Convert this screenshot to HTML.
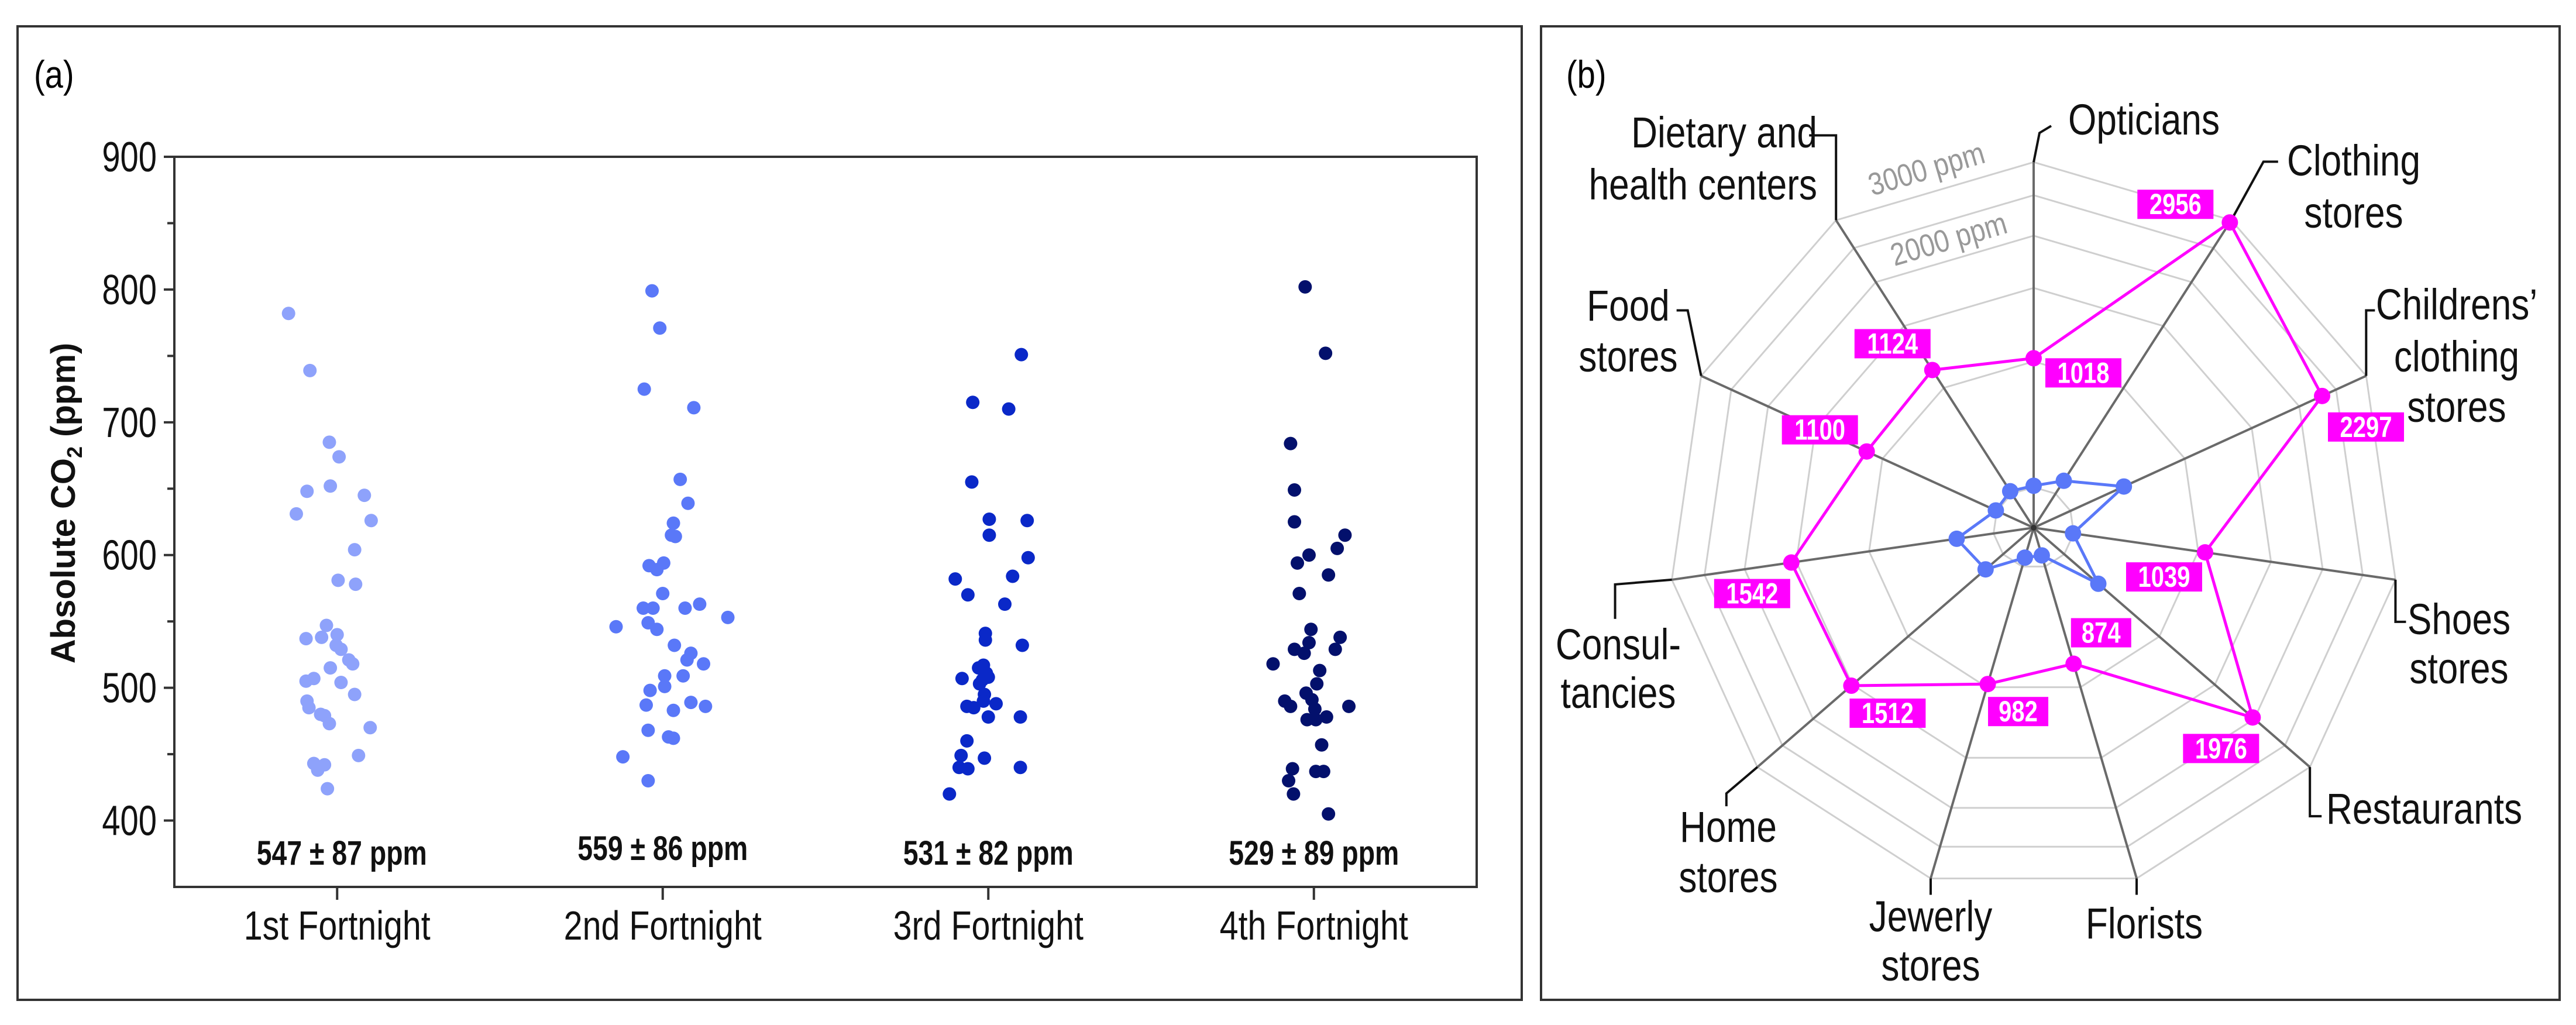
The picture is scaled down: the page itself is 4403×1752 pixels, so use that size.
<!DOCTYPE html>
<html><head><meta charset="utf-8"><style>
html,body{margin:0;padding:0;background:#fff;}
svg{display:block;}
text{font-family:"Liberation Sans Narrow","Liberation Sans",sans-serif;}
</style></head><body>
<svg id="fig" width="4403" height="1752" viewBox="0 0 4403 1752" xmlns="http://www.w3.org/2000/svg">
<rect x="30" y="45" width="2571" height="1664" fill="none" stroke="#333" stroke-width="4"/>
<rect x="2634" y="45" width="1741" height="1664" fill="none" stroke="#333" stroke-width="4"/>
<text x="0" y="0" transform="translate(58,150) scale(0.85,1)" font-size="66">(a)</text>
<text x="0" y="0" transform="translate(2677,150) scale(0.85,1)" font-size="66">(b)</text>
<g id="chartA"></g>
<g id="chartB"></g>
</svg>
<script>
// ---------- Panel (a) data ----------
const categories = ["1st Fortnight","2nd Fortnight","3rd Fortnight","4th Fortnight"];
const statLabels = ["547 ± 87 ppm","559 ± 86 ppm","531 ± 82 ppm","529 ± 89 ppm"];
const yTicks = [400,500,600,700,800,900];
const seriesColors = ["#8ea2fb","#5a78f8","#0a28c8","#03106c"];
const values1 = [782,739,685,674,652,648,645,631,626,604,581,578,547,540,537,538,532,529,521,518,515,505,507,504,495,490,485,480,479,473,470,449,442,443,438,424];
const jitter1 = [-50,-28,-8,2,-7,-31,28,-42,35,18,1,19,-11,0,-32,-16,-1,4,12,16,-7,-32,-24,4,18,-31,-29,-17,-13,-8,34,22,-13,-24,-20,-10,-9,3];
const values2 = [799,771,725,711,657,639,624,615,614,592,589,594,571,560,560,560,563,553,546,549,544,532,526,521,518,509,509,501,498,489,486,487,483,468,463,462,448,430];
const jitter2 = [-11,-3,-19,32,18,26,11,9,13,-14,-6,1,0,-20,-10,23,38,67,-48,-15,-6,12,29,25,42,2,21,2,-13,29,44,-17,11,-15,6,11,-41,-15];
const values3 = [751,715,710,655,627,626,615,598,582,584,570,563,541,536,532,517,515,511,507,506,508,503,495,485,488,490,486,478,478,460,449,447,440,439,440,420];
const jitter3 = [34,-16,21,-17,1,40,1,41,-34,25,-21,17,-3,-3,35,-5,-10,-2,-27,-6,0,-9,-4,-15,8,-5,-22,0,33,-22,-28,-4,-30,-21,33,-40];
const values4 = [802,752,684,649,625,615,605,600,594,585,571,544,538,534,529,529,526,518,513,503,496,490,491,486,486,484,478,476,476,457,439,437,437,430,420,405];
const jitter4 = [-9,12,-24,-20,-20,32,24,-5,-17,15,-15,-3,27,-5,-20,22,-10,-42,6,3,-8,-30,-2,-24,36,1,13,-7,2,8,-22,2,10,-26,-21,15];
const allValues = [values1,values2,values3,values4];
const allJitter = [jitter1,jitter2,jitter3,jitter4];

// ---------- Panel (b) data ----------
const radarCats = ["Opticians","Clothing stores","Childrens' clothing stores","Shoes stores","Restaurants","Florists","Jewerly stores","Home stores","Consultancies","Food stores","Dietary and health centers"];
const maxValues = [1018,2956,2297,1039,1976,874,982,1512,1542,1100,1124];
const minValues = [504,544,691,498,641,469,475,568,614,503,508];
const ringValues = [500,1000,1500,2000,2500,3000];

const NS="http://www.w3.org/2000/svg";
const SX=0.82;
function mk(tag,attrs,parent){const e=document.createElementNS(NS,tag);for(const k in attrs)e.setAttribute(k,attrs[k]);parent.appendChild(e);return e;}
function tx(x,y,attrs,parent,sx){const a=Object.assign({x:0,y:0,transform:'translate('+x+','+y+') scale('+(sx||SX)+',1)'},attrs);return mk('text',a,parent);}

// ----- Scatter -----
(function(){
 const g=document.getElementById('chartA');
 const L=298,R=2524,T=268,B=1516,yMin=350,yMax=900;
 const yS=v=>B-(v-yMin)/(yMax-yMin)*(B-T);
 const band=(R-L)/categories.length;
 const xS=i=>L+band*(i+0.5);
 for(let v=450;v<=850;v+=100){
  const t=mk('line',{x1:L-12,x2:L,y1:yS(v),y2:yS(v),stroke:'#333','stroke-width':4},g);
  
  
 }
 yTicks.forEach(v=>{
  const t=mk('line',{x1:L-18,x2:L,y1:yS(v),y2:yS(v),stroke:'#333','stroke-width':4},g);
  
  
  const e=tx(L-30,yS(v)+25,{'font-size':72,'text-anchor':'end',fill:'#111'},g,0.78);
  e.textContent=v;
  
  
 });
 const fr=mk('rect',{x:L,y:T,width:R-L,height:B-T,fill:'none',stroke:'#333','stroke-width':4},g);
 
 
 categories.forEach((c,i)=>{
  const t=mk('line',{x1:xS(i),x2:xS(i),y1:B,y2:B+22,stroke:'#333','stroke-width':4},g);
  
  
  const e=tx(xS(i),B+90,{'font-size':70,'text-anchor':'middle',fill:'#111'},g);
  e.textContent=c;
  
  
  const st=tx(xS(i)+(i==0?8:0),1478-(i==1?8:0),{'font-size':58,'font-weight':'bold','text-anchor':'middle',fill:'#111'},g,0.8);
  st.textContent=statLabels[i];
  
  
  allValues[i].forEach((v,k)=>{
   const d=mk('circle',{cx:xS(i)+allJitter[i][k]/335*band,cy:yS(v),r:11.5,fill:seriesColors[i]},g);
   
   
  });
 });
 const yt=mk('text',{x:0,y:0,'font-size':58,'font-weight':'bold','text-anchor':'middle',fill:'#111',transform:'translate(128,860) rotate(-90)',style:'font-family:"Liberation Sans",sans-serif'},g);
 yt.innerHTML='Absolute CO<tspan font-size="36" dy="12">2</tspan><tspan dy="-12"> (ppm)</tspan>';
 
 
})();

// ----- Radar -----
(function(){
 const g=document.getElementById('chartB');
 const cx=3476,cy=902,base=400,k=714;
 const rS=v=>Math.max(0,k*Math.log10(v/base));
 const n=radarCats.length;
 const ang=i=>i*2*Math.PI/n;
 const pt=(i,v)=>[cx+rS(v)*Math.sin(ang(i)),cy-rS(v)*Math.cos(ang(i))];
 ringValues.forEach(v=>{
  const p=radarCats.map((c,i)=>pt(i,v).join(',')).join(' ');
  const e=mk('polygon',{points:p,fill:'none',stroke:'#cfcfcf','stroke-width':3},g);
  
  
 });
 radarCats.forEach((c,i)=>{
  const p=pt(i,3000);
  const e=mk('line',{x1:cx,y1:cy,x2:p[0],y2:p[1],stroke:'#6a6a6a','stroke-width':4},g);
  
  
 });
 const t3=mk('text',{x:0,y:0,'font-size':54,fill:'#999',transform:'translate(3200,335) rotate(-16.4) scale(0.85,1)'},g);
 t3.textContent='3000 ppm';
 
 
 const t2=mk('text',{x:0,y:0,'font-size':54,fill:'#999',transform:'translate(3238,455) rotate(-16.4) scale(0.85,1)'},g);
 t2.textContent='2000 ppm';
 
 
 const leaders=[
  [[0,0],[10,-50],[30,-62]],
  [[0,0],[55,-100],[80,-100]],
  [[0,0],[0,-112],[15,-112]],
  [[0,0],[0,72],[18,72]],
  [[0,0],[0,84],[20,84]],
  [[0,0],[0,28]],
  [[0,0],[0,28]],
  [[0,0],[-53,45],[-53,67]],
  [[0,0],[-97,8],[-97,67]],
  [[0,0],[-23,-112],[-42,-112]],
  [[0,0],[0,-145],[-46,-145]]
 ];
 const labelPos=[
  [[3535,230,'start','Opticians']],
  [[4023,300,'middle','Clothing'],[4023,389,'middle','stores']],
  [[4199,546,'middle','Childrens’'],[4199,635,'middle','clothing'],[4199,721,'middle','stores']],
  [[4203,1084,'middle','Shoes'],[4203,1168,'middle','stores']],
  [[3976,1408,'start','Restaurants']],
  [[3665,1604,'middle','Florists']],
  [[3300,1592,'middle','Jewerly'],[3300,1676,'middle','stores']],
  [[2954,1439,'middle','Home'],[2954,1525,'middle','stores']],
  [[2766,1127,'middle','Consul-'],[2766,1210,'middle','tancies']],
  [[2783,548,'middle','Food'],[2783,635,'middle','stores']],
  [[3106,252,'end','Dietary and'],[3106,341,'end','health centers']]
 ];
 radarCats.forEach((c,i)=>{
  const p=pt(i,3000);
  const pts=leaders[i].map(q=>(p[0]+q[0])+','+(p[1]+q[1])).join(' ');
  const l=mk('polyline',{points:pts,fill:'none',stroke:'#111','stroke-width':4},g);
  
  
  labelPos[i].forEach(a=>{
   const t=tx(a[0],a[1],{'font-size':74,'text-anchor':a[2],fill:'#111'},g,0.84);
   t.textContent=a[3];
   
   
  });
 });
 const minPts=minValues.map((v,i)=>pt(i,v));
 const mn=mk('polygon',{points:minPts.map(p=>p.join(',')).join(' '),fill:'none',stroke:'#5a78f8','stroke-width':5},g);
 
 
 const maxPts=maxValues.map((v,i)=>pt(i,v));
 const mx=mk('polygon',{points:maxPts.map(p=>p.join(',')).join(' '),fill:'none',stroke:'#ff00ff','stroke-width':5},g);
 
 
 minPts.forEach(p=>{
  const d=mk('circle',{cx:p[0],cy:p[1],r:14,fill:'#5a78f8'},g);
  
  
 });
 const boxOff=[[85,25],[-93,-31],[75,53],[-70,42],[-54,53],[47,-53],[52,47],[62,47],[-67,53],[-80,-37],[-68,-45]];
 maxPts.forEach((p,i)=>{
  const d=mk('circle',{cx:p[0],cy:p[1],r:14,fill:'#ff00ff'},g);
  
  
  const txt=String(maxValues[i]);
  const w=txt.length*27+22;
  const bx=p[0]+boxOff[i][0], by=p[1]+boxOff[i][1];
  const r=mk('rect',{x:bx-w/2,y:by-25,width:w,height:50,fill:'#ff00ff'},g);
  
  
  const t=tx(bx,by+17,{'font-size':50,'font-weight':'bold','text-anchor':'middle',fill:'#fff'},g,0.8);
  t.textContent=txt;
  
  
 });
 const c=mk('circle',{cx:cx,cy:cy,r:5,fill:'#333'},g);
 
 
})();
</script>
</body></html>
